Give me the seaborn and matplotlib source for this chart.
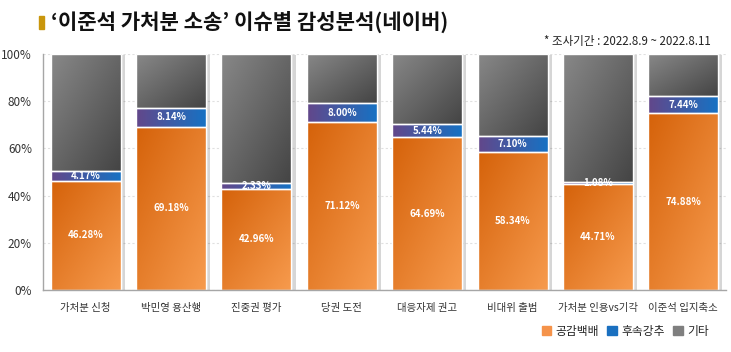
import numpy as np
import pandas as pd
import seaborn as sns
import matplotlib.pyplot as plt
from matplotlib.patches import Patch, Rectangle
import matplotlib.patheffects as pe

# data
categories = ['가처분 신청', '박민영 용산행', '진중권 평가', '당권 도전',
              '대응자제 권고', '비대위 출범', '가처분 인용vs기각', '이준석 입지축소']
empathy = [46.28, 69.18, 42.96, 71.12, 64.69, 58.34, 44.71, 74.88]   # 공감백배
follow = [4.17, 8.14, 2.33, 8.00, 5.44, 7.10, 1.08, 7.44]            # 후속강추
series_names = ['공감백배', '후속강추', '기타']

df = pd.DataFrame({'cat': categories, 'empathy': empathy, 'follow': follow})
df['other'] = 100 - df['empathy'] - df['follow']

sns.set_style('white')
plt.rcParams['font.family'] = ['Noto Sans CJK KR', 'DejaVu Sans']

fig = plt.figure(figsize=(7.31, 3.52), dpi=100)
ax = fig.add_axes([43 / 731, 62 / 352, 683 / 731, 236 / 352])

shadow = [pe.SimplePatchShadow(offset=(3, -1), shadow_rgbFace='#000000', alpha=0.16), pe.Normal()]
bar_kw = dict(width=0.82, edgecolor='white', linewidth=1.0, ax=ax, order=categories)

sns.barplot(data=df, x='cat', y='empathy', color='#ED7D31', **bar_kw)
sns.barplot(data=df, x='cat', y='follow', bottom=df['empathy'], color='#3E64A8', **bar_kw)
sns.barplot(data=df, x='cat', y='other', bottom=df['empathy'] + df['follow'], color='#666666', **bar_kw)

# gradient colours per layer: (start, end, direction)
grads = [('#D5620A', '#F79B4E', 'diag'),
         ('#63478A', '#1672C4', 'horiz'),
         ('#888888', '#444444', 'diag')]


def fill_gradient(patch, c0, c1, how):
    x, y = patch.get_x(), patch.get_y()
    w, h = patch.get_width(), patch.get_height()
    n = 64
    u, v = np.meshgrid(np.linspace(0, 1, n), np.linspace(0, 1, n))
    t = u if how == 'horiz' else (u + (1 - v)) / 2
    a = np.array(plt.matplotlib.colors.to_rgb(c0))
    b = np.array(plt.matplotlib.colors.to_rgb(c1))
    img = a * (1 - t[..., None]) + b * t[..., None]
    im = ax.imshow(img, extent=[x, x + w, y, y + h], origin='lower',
                   aspect='auto', interpolation='bilinear', zorder=1.5)
    im.set_clip_path(patch)
    edge = Rectangle((x, y), w, h, facecolor='none', edgecolor='white',
                     linewidth=1.0, zorder=2)
    ax.add_patch(edge)


for cont, (c0, c1, how) in zip(ax.containers, grads):
    for p in cont.patches:
        p.set_path_effects(shadow)
        fill_gradient(p, c0, c1, how)

# value labels
ax.bar_label(ax.containers[0], labels=[f'{v:.2f}%' for v in empathy], label_type='center',
             color='white', fontsize=7, fontweight='bold', zorder=3)
ax.bar_label(ax.containers[1], labels=[f'{v:.2f}%' for v in follow], label_type='center',
             color='white', fontsize=7, fontweight='bold', zorder=3)

ax.set_xlim(-0.5, len(categories) - 0.5)
ax.set_ylim(0, 100)
ax.set_yticks(range(0, 101, 20))
ax.set_yticklabels([f'{v}%' for v in range(0, 101, 20)], fontsize=8.5, color='#333333')
ax.set_xticks(range(len(categories)))
ax.set_xticklabels(categories, fontsize=7.5, color='#333333')
ax.set_xticks(np.arange(-0.5, len(categories)), minor=True)
ax.tick_params(axis='x', which='major', length=0, pad=9)
ax.tick_params(axis='x', which='minor', length=4, color='#A6A6A6', width=0.8)
ax.tick_params(axis='y', length=4, color='#A6A6A6', width=0.8, pad=4)
ax.set_xlabel('')
ax.set_ylabel('')
ax.grid(axis='y', color='#E0E0E0', linestyle=(0, (2, 2)), linewidth=0.8)
ax.set_axisbelow(True)
for side in ['top', 'right']:
    ax.spines[side].set_visible(False)
for side in ['left', 'bottom']:
    ax.spines[side].set_color('#A6A6A6')
    ax.spines[side].set_linewidth(1.0)

# title block
fig.patches.append(Rectangle((39 / 731, 1 - 29 / 352), 5 / 731, 13 / 352,
                             transform=fig.transFigure, color='#C9960C'))
fig.text(51 / 731, 1 - 22 / 352, '‘이준석 가처분 소송’ 이슈별 감성분석(네이버)',
         fontsize=15.2, fontweight='bold', va='center', ha='left', color='#111111')
fig.text(711 / 731, 1 - 41 / 352, '* 조사기간 : 2022.8.9 ~ 2022.8.11',
         fontsize=8.3, va='center', ha='right', color='#222222')

handles = [Patch(color='#F5934A'), Patch(color='#1A70C0'), Patch(color='#7F7F7F')]
fig.legend(handles, series_names, loc='center right', bbox_to_anchor=(714 / 731, 1 - 331 / 352),
           ncol=3, frameon=False, fontsize=8.5, handlelength=0.8, handleheight=0.8,
           handletextpad=0.4, columnspacing=0.7, borderaxespad=0)

fig.savefig('out.png', dpi=100)
